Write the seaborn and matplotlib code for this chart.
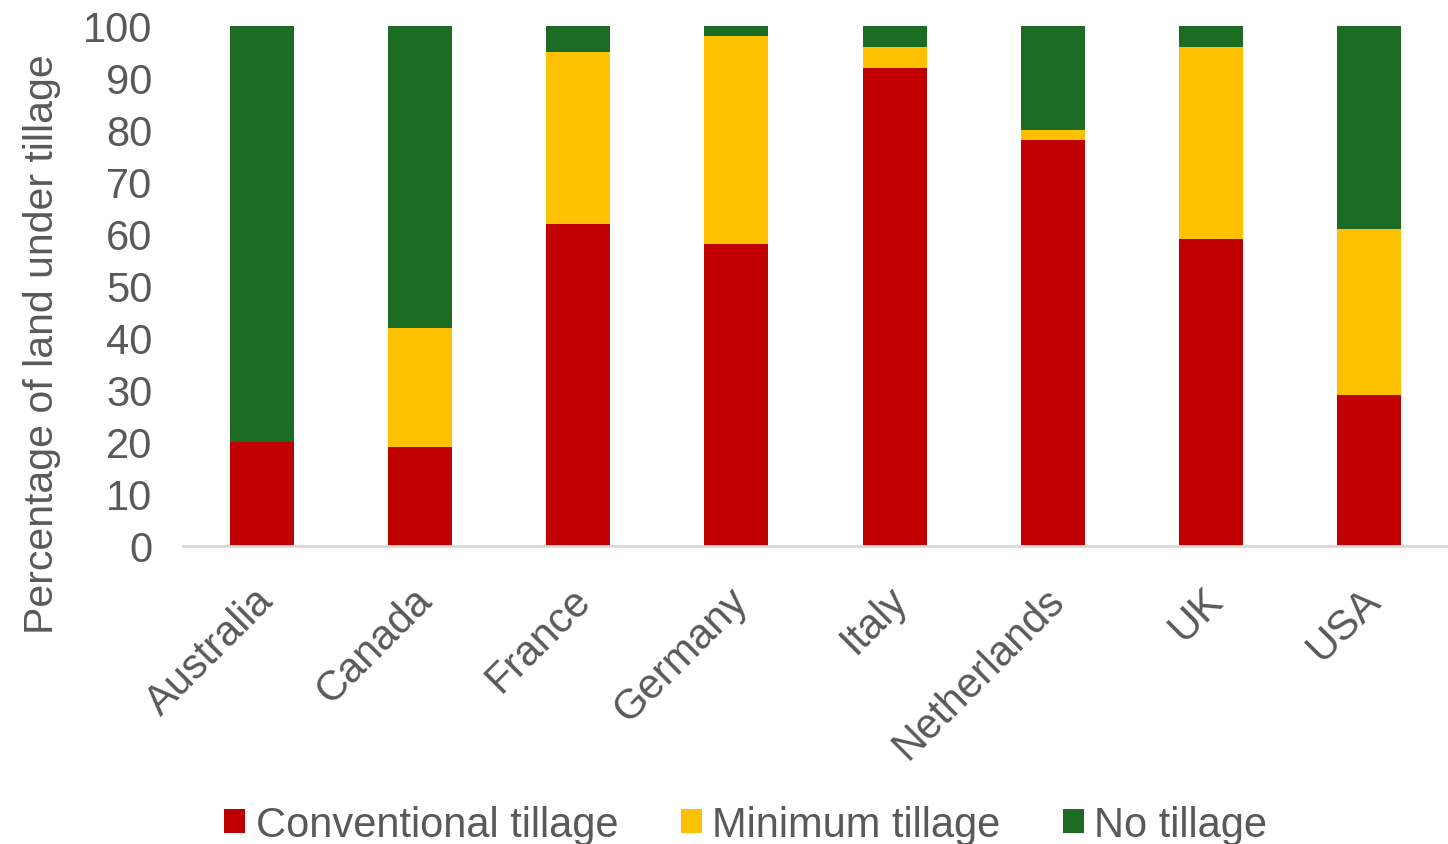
import matplotlib
matplotlib.use("Agg")
import matplotlib.pyplot as plt
import matplotlib.transforms as mtransforms
import seaborn as sns
import pandas as pd
import numpy as np

countries = ["Australia", "Canada", "France", "Germany", "Italy", "Netherlands", "UK", "USA"]
conventional = [20, 19, 62, 58, 92, 78, 59, 29]
minimum = [0, 23, 33, 40, 4, 2, 37, 32]
no_tillage = [80, 58, 5, 2, 4, 20, 4, 39]

series_names = ["Conventional tillage", "Minimum tillage", "No tillage"]
colors = ["#C00000", "#FFC000", "#1B6B23"]

sns.set_theme(style="white")
plt.rcParams["font.family"] = ["Liberation Sans", "DejaVu Sans"]

fig = plt.figure(figsize=(14.48, 8.45), dpi=100)
ax = fig.add_axes([183 / 1448, 1 - 547 / 845, (1448 - 183) / 1448, (547 - 27) / 845])

df = pd.DataFrame({"Country": countries,
                   series_names[0]: conventional,
                   series_names[1]: minimum,
                   series_names[2]: no_tillage})

bottom = np.zeros(len(countries))
for name, col in zip(series_names, colors):
    sns.barplot(data=df, x="Country", y=name, bottom=bottom, color=col, width=0.405,
                ax=ax, label=name, saturation=1, edgecolor=col, linewidth=0)
    bottom = bottom + df[name].to_numpy()

ax.set_xlim(-0.5, 7.5)
ax.set_ylim(0, 100)
ax.set_yticks(range(0, 101, 10))
ax.set_xlabel("")
ax.set_ylabel("Percentage of land under tillage", fontsize=29.5, color="#595959",
              labelpad=16, y=0.39)
ax.tick_params(axis="y", labelsize=30, labelcolor="#595959", length=0, pad=22)
ax.tick_params(axis="x", labelsize=30, labelcolor="#595959", length=0, pad=24)

# nudge the rotated category labels slightly left
shift = mtransforms.ScaledTranslation(-6 / 72, 0, fig.dpi_scale_trans)
for lbl in ax.get_xticklabels():
    lbl.set_rotation(45)
    lbl.set_ha("right")
    lbl.set_rotation_mode("anchor")
    lbl.set_transform(lbl.get_transform() + shift)

for side in ["top", "right", "left"]:
    ax.spines[side].set_visible(False)
ax.spines["bottom"].set_color("#D9D9D9")
ax.spines["bottom"].set_linewidth(2)
ax.grid(False)

handles, labels = ax.get_legend_handles_labels()
if ax.legend_:
    ax.legend_.remove()
fig.legend(handles, labels, loc="lower center", bbox_to_anchor=(0.515, -0.045), ncol=3,
           frameon=False, fontsize=30, labelcolor="#595959", handlelength=0.5,
           handleheight=0.5, handletextpad=0.25, columnspacing=1.5)

fig.savefig("out.png", dpi=100)
